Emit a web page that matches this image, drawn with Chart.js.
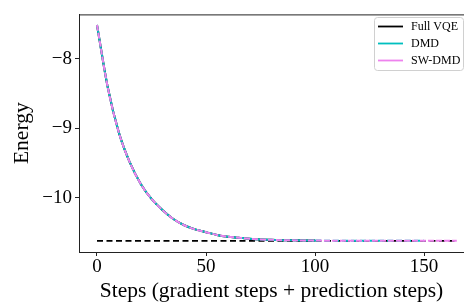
<!DOCTYPE html>
<html>
<head>
<meta charset="utf-8">
<script src="https://cdn.jsdelivr.net/npm/chart.js@4.4.0/dist/chart.umd.min.js"></script>
<style>
  html, body { margin: 0; padding: 0; background: #fff; overflow: hidden; }
  #wrap { width: 464px; height: 304px; }
</style>
</head>
<body>
<div id="wrap"><canvas id="energyChart" width="464" height="304"></canvas></div>
<script>
const SERIF = "'Liberation Serif', 'DejaVu Serif', serif";

// steps along the x axis
const steps = [0, 5, 10, 15, 20, 25, 30, 35, 40, 45, 50, 55, 60, 65, 70, 75, 80,
  85, 90, 95, 100, 105, 110, 115, 120, 125, 130, 135, 140, 145, 150, 155, 160, 165];
// energy (the three curves coincide)
const energyRead = [-7.51, -8.42, -9.06, -9.49, -9.80, -10.02, -10.18, -10.31, -10.40,
  -10.46, -10.50, -10.54, -10.565, -10.58, -10.595, -10.605, -10.61, -10.615, -10.618,
  -10.62, -10.621, -10.622, -10.622, -10.623, -10.623, -10.623, -10.623, -10.623,
  -10.623, -10.623, -10.623, -10.623, -10.623, -10.623];
const vqeEnd = 100;
const dmdEnd = 150;
const swDmdEnd = 165;
const groundEnergy = -10.625;
const groundRange = [0, 165];

const seriesLabels = ['Full VQE', 'DMD', 'SW-DMD'];
const seriesColors = ['#000000', '#00bfbf', '#ee82ee'];
const xTicks = [0, 50, 100, 150];
const yTicks = [-10, -9, -8];

function pointsUpTo(last) {
  const out = [];
  steps.forEach((s, i) => { if (s <= last) out.push({ x: s, y: energyRead[i] }); });
  return out;
}

const predictedDash = ctx => ctx.p0.parsed.x >= vqeEnd ? [6, 3] : undefined;

const framePlugin = {
  id: 'frame',
  afterDatasetsDraw(chart) {
    const { ctx, chartArea: a } = chart;
    ctx.save();
    ctx.strokeStyle = '#222';
    ctx.lineWidth = 1;
    ctx.beginPath();
    ctx.moveTo(a.left, a.top + 0.5);
    ctx.lineTo(a.right, a.top + 0.5);
    ctx.stroke();
    ctx.restore();
  },
  afterDraw(chart) {
    const { ctx } = chart;
    const x = 374, y = 17, w = 89, h = 53, r = 3;
    ctx.save();
    ctx.fillStyle = 'rgba(255,255,255,0.8)';
    ctx.strokeStyle = '#d0d0d0';
    ctx.lineWidth = 1;
    ctx.beginPath();
    ctx.roundRect(x + 0.5, y + 0.5, w, h, r);
    ctx.fill();
    ctx.stroke();
    ctx.font = '12px ' + SERIF;
    ctx.textBaseline = 'middle';
    ctx.fillStyle = '#000';
    seriesLabels.forEach((lab, i) => {
      const ly = y + 9.5 + i * 17;
      ctx.strokeStyle = seriesColors[i];
      ctx.lineWidth = 1.8;
      ctx.beginPath();
      ctx.moveTo(x + 4, ly);
      ctx.lineTo(x + 29, ly);
      ctx.stroke();
      ctx.fillText(lab, x + 37, ly);
    });
    ctx.restore();
  }
};

new Chart(document.getElementById('energyChart'), {
  type: 'line',
  data: {
    datasets: [
      {
        label: seriesLabels[2],
        data: pointsUpTo(swDmdEnd),
        borderColor: seriesColors[2],
        borderWidth: 2,
        borderDash: [6, 2],
        cubicInterpolationMode: 'monotone',
        pointRadius: 0,
        order: 1
      },
      {
        label: seriesLabels[1],
        data: pointsUpTo(dmdEnd),
        borderColor: seriesColors[1],
        borderWidth: 2,
        segment: { borderDash: predictedDash },
        cubicInterpolationMode: 'monotone',
        pointRadius: 0,
        order: 2
      },
      {
        label: seriesLabels[0],
        data: pointsUpTo(vqeEnd),
        borderColor: seriesColors[0],
        borderWidth: 2,
        cubicInterpolationMode: 'monotone',
        pointRadius: 0,
        order: 3
      },
      {
        label: 'ground',
        data: groundRange.map(s => ({ x: s, y: groundEnergy })),
        borderColor: '#000',
        borderWidth: 1.6,
        borderDash: [6, 3.5],
        pointRadius: 0,
        order: 4
      }
    ]
  },
  options: {
    responsive: false,
    animation: false,
    layout: { padding: { top: 12, right: 0, left: 0, bottom: 0 } },
    plugins: { legend: { display: false }, tooltip: { enabled: false } },
    scales: {
      x: {
        type: 'linear',
        min: -8.25,
        max: 168.3,
        afterBuildTicks(scale) { scale.ticks = xTicks.map(v => ({ value: v })); },
        afterFit(scale) { scale.height = 52; },
        ticks: {
          color: '#000',
          font: { family: SERIF, size: 19 },
          padding: 0,
          maxRotation: 0,
          callback: v => String(v)
        },
        grid: { drawOnChartArea: false, tickLength: 4, color: '#222' },
        border: { color: '#222', width: 1 },
        title: {
          display: true,
          text: 'Steps (gradient steps + prediction steps)',
          color: '#000',
          font: { family: SERIF, size: 21.5 },
          padding: { top: -4, bottom: 0 }
        }
      },
      y: {
        type: 'linear',
        min: -10.786,
        max: -7.357,
        afterBuildTicks(scale) { scale.ticks = yTicks.map(v => ({ value: v })); },
        afterFit(scale) { scale.width = 79; },
        ticks: {
          color: '#000',
          font: { family: SERIF, size: 19 },
          padding: 3,
          callback: v => (v < 0 ? '\u2212' : '') + Math.abs(v)
        },
        grid: { drawOnChartArea: false, tickLength: 4, color: '#222' },
        border: { color: '#222', width: 1 },
        title: {
          display: true,
          text: 'Energy',
          color: '#000',
          font: { family: SERIF, size: 21.5 },
          padding: { top: 9, bottom: 0 }
        }
      }
    }
  },
  plugins: [framePlugin]
});
</script>
</body>
</html>
